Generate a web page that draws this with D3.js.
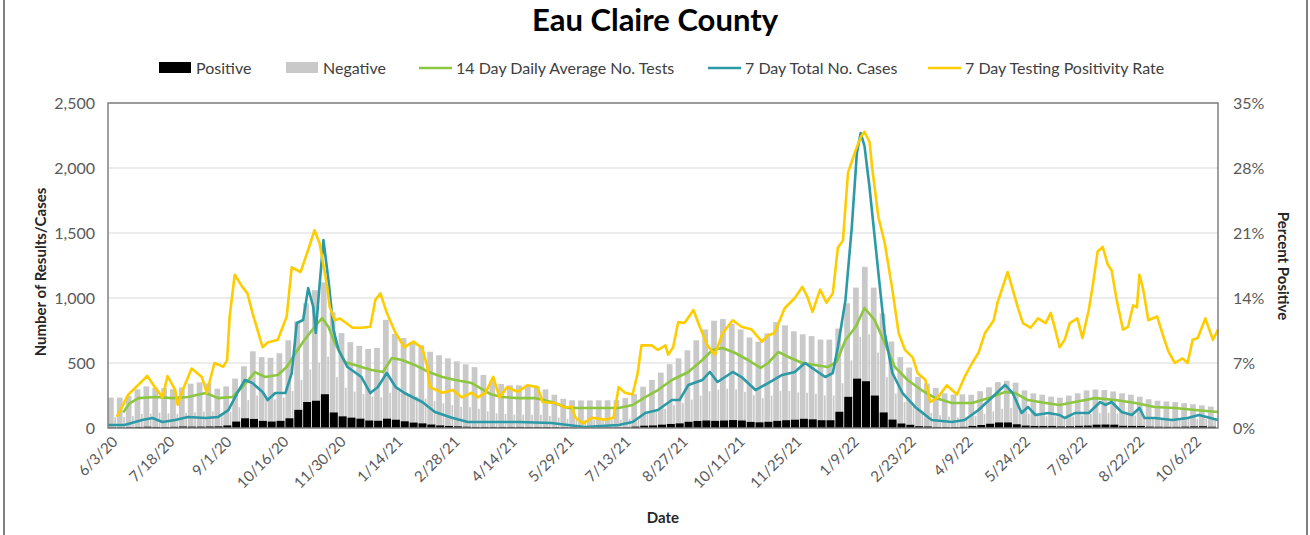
<!DOCTYPE html>
<html>
<head>
<meta charset="utf-8">
<script src="https://cdn.jsdelivr.net/npm/d3@7"></script>
<style>
  body { margin: 0; background: #fff; }
  svg { display: block; font-family: Lato, "Open Sans", sans-serif; }
</style>
</head>
<body>
<svg id="chart" width="1310" height="535"></svg>
<script>
// Time range of the chart and the x tick labels (every 45 days).
var startDate = '6/3/20';
var endDate = '10/27/22';
var tickLabels = ['6/3/20', '7/18/20', '9/1/20', '10/16/20', '11/30/20', '1/14/21',
  '2/28/21', '4/14/21', '5/29/21', '7/13/21', '8/27/21', '10/11/21', '11/25/21',
  '1/9/22', '2/23/22', '4/9/22', '5/24/22', '7/8/22', '8/22/22', '10/6/22'];
var leftTicks = [0, 500, 1000, 1500, 2000, 2500];
var rightTicks = [0, 7, 14, 21, 28, 35];

// Results per day, one value per 7-day block starting on startDate.
var positive = [4, 4, 6, 8, 10, 8, 7, 9, 12, 11, 11, 12, 13,
  20, 50, 75, 70, 55, 50, 55, 75,
  140, 200, 210, 260, 120, 90, 80, 72, 58, 56,
  72, 64, 52, 42, 36, 27, 20, 16, 13, 10,
  8, 8, 8, 8, 8, 8, 7, 7, 7,
  6, 5, 3, 2, 2, 3, 3, 4, 5,
  11, 18, 20, 26, 31, 36, 48, 54, 58, 55,
  58, 61, 58, 47, 44, 48, 55, 60, 64, 71, 67, 60, 60,
  125, 240, 380, 360, 250, 120, 65, 35, 25, 14,
  12, 8, 7, 7, 9, 16, 23, 33, 43, 43,
  29, 19, 16, 16, 16, 13, 14, 17, 19, 26, 27, 26,
  17, 16, 16, 11, 10, 9, 9, 11, 13, 14, 10];
// Negative results on weekdays and on weekends of the same blocks.
var negativeWeekday = [230, 230, 240, 290, 310, 300, 300, 290, 300, 330, 340, 330, 290,
  300, 330, 400, 520, 490, 490, 520, 600,
  680, 760, 850, 860, 770, 640, 580, 560, 550, 560,
  760, 660, 640, 620, 600, 560, 540, 520, 500, 480,
  460, 400, 350, 330, 320, 320, 320, 310, 290,
  250, 220, 210, 210, 210, 210, 210, 210, 225,
  250, 300, 350, 400, 460, 500, 550, 620, 700, 770,
  780, 740, 700, 650, 620, 680, 760, 730, 680, 650, 640, 620, 620,
  640, 720, 700, 880, 830, 760, 600, 510, 440, 380,
  330, 300, 260, 250, 250, 240, 260, 280, 310, 320,
  320, 270, 250, 240, 225, 220, 235, 250, 270, 270, 265, 255,
  250, 240, 225, 210, 200, 195, 190, 180, 170, 160, 155];
var negativeWeekend = [80, 80, 85, 100, 100, 110, 105, 100, 105, 110, 115, 115, 100,
  105, 110, 140, 180, 170, 170, 180, 210,
  230, 250, 290, 290, 270, 220, 200, 190, 185, 180,
  200, 220, 210, 200, 190, 180, 170, 160, 150, 150,
  140, 120, 105, 100, 95, 95, 95, 95, 85,
  75, 65, 60, 60, 60, 60, 60, 60, 65,
  75, 90, 105, 120, 145, 155, 170, 195, 225, 240,
  245, 235, 220, 205, 185, 200, 230, 225, 210, 200, 195, 190, 190,
  220, 280, 320, 360, 330, 270, 200, 165, 140, 120,
  105, 90, 80, 75, 75, 75, 85, 95, 105, 110,
  105, 90, 80, 75, 75, 70, 75, 80, 90, 90, 90, 85,
  85, 80, 75, 70, 65, 60, 60, 60, 55, 55, 50];

// Line series: day = days since startDate.
var testsDay = [12, 17, 24, 37, 51, 63, 77, 87, 98, 106, 116, 124, 134, 141, 148, 155, 163, 169,
  174, 179, 187, 200, 208, 217, 224, 232, 242, 253, 264, 274, 287, 302, 311, 324, 337, 350,
  363, 376, 390, 403, 414, 424, 434, 445, 458, 469, 477, 485, 495, 505, 515, 521, 529, 537,
  548, 558, 568, 575, 582, 590, 597, 605, 613, 621, 631, 642, 653, 666, 682, 695, 708, 716,
  726, 740, 751, 763, 779, 795, 811, 826, 842, 858, 876];
var testsAvg = [120, 190, 230, 238, 230, 238, 269, 230, 238, 315, 430, 392, 408, 469, 577, 677,
  777, 846, 777, 654, 508, 469, 446, 431, 538, 523, 485, 431, 392, 369, 346, 260, 238, 230,
  230, 200, 154, 154, 154, 154, 177, 238, 292, 369, 431, 523, 600, 615, 577, 523, 462, 500,
  585, 546, 500, 485, 469, 508, 677, 777, 923, 831, 654, 469, 369, 292, 230, 192, 192, 230,
  277, 269, 215, 192, 177, 200, 230, 215, 192, 162, 154, 138, 123];

var casesDay = [0, 13, 27, 35, 43, 53, 63, 77, 87, 95, 102, 108, 114, 122, 126, 132, 140, 145,
  149, 154, 158, 162, 164, 166, 170, 174, 178, 182, 189, 200, 207, 213, 220, 227, 234, 248,
  258, 272, 284, 302, 324, 350, 376, 403, 414, 424, 434, 445, 451, 458, 469, 475, 481, 493,
  500, 511, 521, 532, 542, 550, 558, 566, 572, 576, 582, 587, 591, 594, 597, 601, 608, 613,
  619, 627, 637, 650, 666, 676, 687, 698, 708, 714, 721, 726, 732, 742, 751, 755, 763, 774,
  783, 787, 792, 800, 808, 814, 818, 826, 840, 852, 861, 876];
var casesTotal = [23, 23, 62, 77, 46, 62, 85, 77, 85, 138, 269, 369, 346, 277, 215, 269, 269,
  423, 808, 831, 1077, 931, 731, 985, 1446, 1138, 754, 600, 469, 392, 269, 315, 423, 315,
  269, 200, 123, 77, 46, 46, 46, 38, 8, 23, 46, 115, 138, 215, 215, 331, 369, 431, 354, 431,
  392, 292, 346, 408, 431, 500, 446, 392, 423, 623, 985, 1546, 2115, 2269, 2170, 1850, 1192,
  731, 423, 269, 162, 62, 46, 62, 138, 238, 331, 269, 115, 162, 100, 115, 100, 77, 115, 115,
  200, 177, 200, 123, 100, 154, 77, 77, 62, 77, 100, 62];

var rateDay = [7, 16, 31, 37, 43, 47, 53, 55, 59, 66, 74, 78, 84, 91, 94, 96, 100, 106, 110,
  114, 122, 126, 134, 141, 145, 152, 158, 163, 167, 173, 175, 179, 183, 193, 200, 207, 211,
  215, 220, 227, 234, 241, 248, 252, 254, 264, 272, 279, 287, 292, 298, 304, 309, 315, 323,
  331, 339, 343, 353, 361, 366, 369, 375, 382, 392, 399, 403, 408, 414, 418, 421, 429, 434,
  440, 442, 446, 450, 455, 462, 467, 473, 479, 485, 493, 500, 508, 516, 521, 526, 534, 542,
  548, 552, 556, 562, 567, 572, 576, 580, 584, 590, 594, 597, 601, 603, 608, 613, 619, 624,
  629, 635, 639, 645, 649, 655, 662, 670, 676, 682, 687, 692, 699, 702, 710, 714, 718, 722,
  728, 734, 740, 744, 747, 751, 755, 759, 765, 769, 774, 777, 781, 785, 789, 792, 796, 801,
  805, 809, 812, 814, 817, 821, 828, 833, 837, 842, 848, 852, 856, 860, 866, 872, 876];
var ratePct = [1.2, 3.6, 5.6, 4.4, 3.3, 5.6, 4.1, 2.5, 4.1, 6.4, 5.5, 3.8, 7.0, 6.6, 7.3, 12,
  16.5, 15.2, 14.5, 12.4, 8.7, 9.2, 9.5, 12, 17.3, 16.8, 19.2, 21.3, 19.9, 15.2, 13, 11.6,
  11.8, 10.8, 10.8, 10.9, 13.8, 14.5, 12.4, 10.2, 8.7, 9.3, 8.6, 6.6, 4.4, 3.8, 4.1, 3.3, 3.8,
  3.3, 3.8, 5.5, 3.3, 4.4, 3.9, 4.6, 4.4, 2.8, 2.7, 2.2, 2.3, 1.1, 0.5, 1.1, 0.9, 1.1, 4.4,
  3.8, 3.6, 5.9, 8.9, 8.9, 8.4, 8.9, 7.9, 8.7, 11.4, 11.3, 12.7, 10.9, 8.9, 7.9, 10.2, 11.6,
  10.9, 10.6, 9.3, 10, 10.2, 12.9, 14, 15.2, 14.1, 12.5, 14.9, 13.5, 14.5, 19.4, 20.2, 27.5,
  29.9, 31.3, 31.9, 30.8, 28.1, 22.7, 19.9, 14.9, 10.2, 8.4, 7.6, 5.9, 5.2, 2.8, 3.3, 4.6,
  3.6, 5.5, 7, 8.1, 10.2, 11.6, 13.5, 16.8, 14.9, 13, 11.3, 10.8, 11.8, 11.3, 12.4, 10.9,
  8.7, 9.5, 11.3, 11.8, 9.7, 12.7, 15.2, 19, 19.5, 17.6, 17, 13.8, 10.6, 10.9, 13.2, 13,
  16.5, 14.9, 11.6, 12, 9.8, 8.2, 7, 7.5, 7, 9.5, 9.7, 11.8, 9.5, 10.6];

var legendItems = [
  {label: 'Positive', kind: 'box', color: '#000000', x: 159},
  {label: 'Negative', kind: 'box', color: '#c9c9c9', x: 286},
  {label: '14 Day Daily Average No. Tests', kind: 'line', color: '#8dc63f', x: 419},
  {label: '7 Day Total No. Cases', kind: 'line', color: '#2b9aa6', x: 708},
  {label: '7 Day Testing Positivity Rate', kind: 'line', color: '#ffcc00', x: 928}
];

var parseDate = d3.timeParse('%m/%d/%y');

/**
 * Draws the combo chart (stacked bars + three lines) into the svg.
 */
function Chart(svg, options) {
  this.svg_ = svg;
  this.options_ = options;
  this.start_ = parseDate(startDate);

  this.x_ = d3.scaleTime()
      .domain([this.start_, parseDate(endDate)])
      .range([options.left, options.right]);
  this.y_ = d3.scaleLinear()
      .domain([0, 2500])
      .range([options.bottom, options.top]);
  this.yRate_ = d3.scaleLinear()
      .domain([0, 35])
      .range([options.bottom, options.top]);

  this.renderGrid();
  this.renderBars();
  this.renderLines();
  this.renderAxes();
  this.renderLegend();
}

Chart.prototype.day = function(n) {
  return d3.timeDay.offset(this.start_, n);
};

Chart.prototype.renderGrid = function() {
  var o = this.options_;
  var y = this.y_;
  this.svg_.append('g')
      .selectAll('line')
      .data(leftTicks.slice(1))
      .enter().append('line')
      .attr('x1', o.left).attr('x2', o.right)
      .attr('y1', function(d) { return y(d); })
      .attr('y2', function(d) { return y(d); })
      .attr('stroke', '#d9d9d9')
      .attr('stroke-width', 1);
};

Chart.prototype.renderBars = function() {
  var x = this.x_, y = this.y_, self = this;
  var weeks = positive.map(function(p, i) {
    return {
      start: self.day(7 * i),
      mid: self.day(7 * i + 5),
      end: self.day(7 * i + 7),
      pos: p,
      high: negativeWeekday[i],
      low: negativeWeekend[i]
    };
  });

  var g = this.svg_.append('g');

  // Negative results sit on top of the positive ones.
  g.selectAll('rect.neg-wd')
      .data(weeks).enter().append('rect')
      .attr('x', function(d) { return x(d.start); })
      .attr('width', function(d) { return x(d.mid) - x(d.start) - 0.6; })
      .attr('y', function(d) { return y(d.pos + d.high); })
      .attr('height', function(d) { return y(d.pos) - y(d.pos + d.high); })
      .attr('fill', '#c9c9c9');

  g.selectAll('rect.neg-we')
      .data(weeks).enter().append('rect')
      .attr('x', function(d) { return x(d.mid); })
      .attr('width', function(d) { return Math.max(0, x(d.end) - x(d.mid) - 0.8); })
      .attr('y', function(d) { return y(d.pos + d.low); })
      .attr('height', function(d) { return y(d.pos) - y(d.pos + d.low); })
      .attr('fill', '#c9c9c9');

  g.selectAll('rect.pos')
      .data(weeks).enter().append('rect')
      .attr('x', function(d) { return x(d.start); })
      .attr('width', function(d) { return x(d.end) - x(d.start) - 0.8; })
      .attr('y', function(d) { return y(d.pos); })
      .attr('height', function(d) { return y(0) - y(d.pos); })
      .attr('fill', '#000000');
};

Chart.prototype.renderLines = function() {
  var x = this.x_, self = this;
  var series = [
    {days: testsDay, values: testsAvg, scale: this.y_, color: legendItems[2].color},
    {days: casesDay, values: casesTotal, scale: this.y_, color: legendItems[3].color},
    {days: rateDay, values: ratePct, scale: this.yRate_, color: legendItems[4].color}
  ];

  series.forEach(function(s) {
    var line = d3.line()
        .x(function(d) { return x(self.day(d)); })
        .y(function(d, i) { return s.scale(s.values[i]); });
    self.svg_.append('path')
        .datum(s.days)
        .attr('d', line)
        .attr('fill', 'none')
        .attr('stroke', s.color)
        .attr('stroke-width', 2.6)
        .attr('stroke-linejoin', 'round');
  });
};

Chart.prototype.renderAxes = function() {
  var o = this.options_, svg = this.svg_, x = this.x_;

  // Plot frame.
  svg.append('rect')
      .attr('x', o.left).attr('y', o.top)
      .attr('width', o.right - o.left).attr('height', o.bottom - o.top)
      .attr('fill', 'none')
      .attr('stroke', '#808080')
      .attr('stroke-width', 1.5);

  var left = svg.append('g')
      .attr('transform', 'translate(' + o.left + ',0)')
      .call(d3.axisLeft(this.y_).tickValues(leftTicks).tickSize(0).tickPadding(13)
          .tickFormat(d3.format(',')));
  var right = svg.append('g')
      .attr('transform', 'translate(' + o.right + ',0)')
      .call(d3.axisRight(this.yRate_).tickValues(rightTicks).tickSize(0).tickPadding(15)
          .tickFormat(function(d) { return d + '%'; }));
  [left, right].forEach(function(a) {
    a.select('.domain').remove();
    a.selectAll('text')
        .attr('fill', '#595959')
        .style('font-family', 'Lato, sans-serif')
        .style('font-size', '16px');
  });

  // Rotated date labels.
  svg.append('g')
      .selectAll('text')
      .data(tickLabels)
      .enter().append('text')
      .attr('transform', function(d) {
        return 'translate(' + (x(parseDate(d)) + 7) + ',' + (o.bottom + 11) + ') rotate(-45)';
      })
      .attr('text-anchor', 'end')
      .attr('dy', '0.35em')
      .attr('fill', '#595959')
      .style('font-size', '15px')
      .text(function(d) { return d; });

  svg.append('text')
      .attr('x', 663).attr('y', 523)
      .attr('text-anchor', 'middle')
      .style('font-size', '15px').style('font-weight', 'bold')
      .attr('fill', '#262626')
      .text('Date');

  svg.append('text')
      .attr('transform', 'translate(46,272) rotate(-90)')
      .attr('text-anchor', 'middle')
      .style('font-size', '15px').style('font-weight', 'bold')
      .attr('fill', '#262626')
      .text('Number of Results/Cases');

  svg.append('text')
      .attr('transform', 'translate(1278,266) rotate(90)')
      .attr('text-anchor', 'middle')
      .style('font-size', '15px').style('font-weight', 'bold')
      .attr('fill', '#262626')
      .text('Percent Positive');

  svg.append('text')
      .attr('x', 655).attr('y', 31)
      .attr('text-anchor', 'middle')
      .style('font-size', '31px').style('font-weight', 'bold')
      .attr('fill', '#000000')
      .text('Eau Claire County');

  // Outer chart border.
  svg.append('rect')
      .attr('x', 4).attr('y', -5)
      .attr('width', 1303).attr('height', 545)
      .attr('fill', 'none')
      .attr('stroke', '#7f7f7f')
      .attr('stroke-width', 2);
};

Chart.prototype.renderLegend = function() {
  var ly = 68;
  var g = this.svg_.append('g');
  var items = g.selectAll('g').data(legendItems).enter().append('g')
      .attr('transform', function(d) { return 'translate(' + d.x + ',' + ly + ')'; });

  items.filter(function(d) { return d.kind === 'box'; })
      .append('rect')
      .attr('x', 0).attr('y', -6).attr('width', 32).attr('height', 11)
      .attr('fill', function(d) { return d.color; });

  items.filter(function(d) { return d.kind === 'line'; })
      .append('line')
      .attr('x1', 0).attr('x2', 33).attr('y1', 0).attr('y2', 0)
      .attr('stroke', function(d) { return d.color; })
      .attr('stroke-width', 2.6);

  items.append('text')
      .attr('x', 37).attr('dy', '0.35em')
      .attr('fill', '#404040')
      .style('font-size', '16px')
      .text(function(d) { return d.label; });
};

new Chart(d3.select('#chart'), {left: 108, right: 1218, top: 103, bottom: 428});
</script>
</body>
</html>
